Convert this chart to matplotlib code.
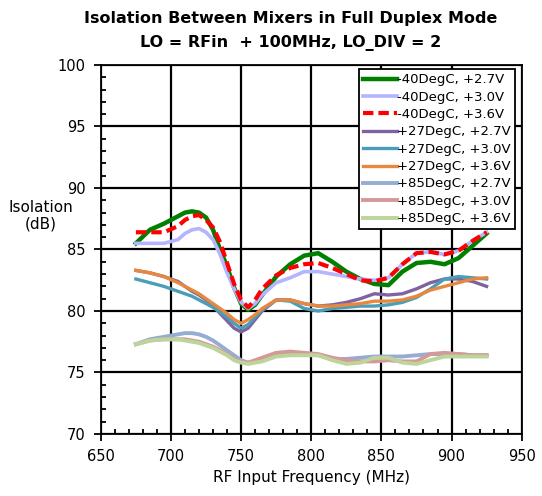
import matplotlib
matplotlib.use('Agg')
import matplotlib.pyplot as plt
from matplotlib.ticker import MultipleLocator

freq = [675, 685, 695, 705, 710, 715, 720, 725, 730, 735, 740, 745, 750, 755, 760, 765,
        775, 785, 795, 805, 815, 825, 835, 845, 855, 865, 875, 885, 895, 905, 915, 925]

m40_27 = [85.5, 86.6, 87.1, 87.7, 88.0, 88.1, 88.0, 87.6, 86.6, 85.0, 83.6, 81.9, 80.6, 80.1, 80.5, 81.3,
          82.8, 83.8, 84.5, 84.7, 84.0, 83.2, 82.6, 82.2, 82.1, 83.2, 83.9, 84.0, 83.8, 84.3, 85.3, 86.3]
m40_30 = [85.5, 85.5, 85.5, 85.8, 86.3, 86.6, 86.7, 86.4, 85.8, 84.6, 83.1, 81.8, 80.7, 80.2, 80.6, 81.3,
          82.3, 82.7, 83.2, 83.2, 83.0, 82.8, 82.6, 82.5, 82.7, 83.8, 84.7, 84.8, 84.6, 84.9, 85.7, 86.4]
m40_36 = [86.4, 86.4, 86.4, 86.9, 87.4, 87.7, 87.8, 87.4, 86.8, 85.6, 83.9, 82.2, 80.9, 80.3, 80.9, 81.8,
          82.9, 83.5, 83.8, 83.9, 83.5, 83.0, 82.5, 82.4, 82.7, 83.8, 84.7, 84.8, 84.6, 84.9, 85.7, 86.4]
p27_27 = [83.3, 83.1, 82.8, 82.4, 82.0, 81.6, 81.3, 80.9, 80.4, 79.8, 79.2, 78.6, 78.3, 78.6, 79.3, 80.0,
          80.9, 80.9, 80.6, 80.4, 80.5, 80.7, 81.0, 81.4, 81.3, 81.4, 81.8, 82.3, 82.6, 82.6, 82.4, 82.0]
p27_30 = [82.6, 82.3, 82.0, 81.6, 81.4, 81.2, 80.9, 80.6, 80.3, 79.9, 79.5, 79.0, 78.6, 78.9, 79.5, 80.1,
          80.9, 80.8, 80.2, 80.0, 80.2, 80.3, 80.4, 80.4, 80.5, 80.7, 81.1, 81.8, 82.6, 82.8, 82.7, 82.6]
p27_36 = [83.3, 83.1, 82.8, 82.3, 82.0, 81.7, 81.4, 81.0, 80.6, 80.2, 79.8, 79.3, 79.0, 79.3, 79.7, 80.2,
          80.9, 80.9, 80.6, 80.4, 80.4, 80.5, 80.6, 80.8, 80.8, 80.9, 81.2, 81.7, 82.0, 82.3, 82.6, 82.7]
p85_27 = [77.3, 77.7, 77.9, 78.1, 78.2, 78.2, 78.1, 77.9, 77.6, 77.2, 76.8, 76.4, 76.0, 75.8, 75.9, 76.0,
          76.4, 76.6, 76.5, 76.4, 76.1, 76.1, 76.2, 76.3, 76.3, 76.3, 76.4, 76.5, 76.5, 76.5, 76.4, 76.4]
p85_30 = [77.3, 77.6, 77.7, 77.7, 77.7, 77.6, 77.5, 77.3, 77.1, 76.8, 76.5, 76.1, 75.9, 75.8, 76.0, 76.2,
          76.6, 76.7, 76.6, 76.5, 76.2, 76.0, 75.9, 75.9, 76.0, 75.9, 75.9, 76.5, 76.6, 76.5, 76.4, 76.4]
p85_36 = [77.3, 77.6, 77.7, 77.7, 77.6, 77.5, 77.4, 77.2, 77.0, 76.7, 76.4, 76.0, 75.8, 75.7, 75.8, 75.9,
          76.3, 76.4, 76.4, 76.4, 76.0, 75.7, 75.8, 76.2, 76.2, 75.8, 75.7, 76.0, 76.3, 76.3, 76.3, 76.3]

labels = ['-40DegC, +2.7V', '-40DegC, +3.0V', '-40DegC, +3.6V',
          '+27DegC, +2.7V', '+27DegC, +3.0V', '+27DegC, +3.6V',
          '+85DegC, +2.7V', '+85DegC, +3.0V', '+85DegC, +3.6V']

plt.rcParams['font.family'] = 'DejaVu Sans'

fig = plt.figure(figsize=(5.42, 4.96), dpi=100)
ax = fig.add_axes([0.186, 0.125, 0.7765, 0.744])

ax.plot(freq, m40_27, color='#008000', lw=3.2, label=labels[0])
ax.plot(freq, m40_30, color='#B4B4FF', lw=2.6, label=labels[1])
ax.plot(freq, m40_36, color='#FF0000', lw=3.0, ls=(0, (2.5, 1.2)), label=labels[2])
ax.plot(freq, p27_27, color='#7F63A1', lw=2.4, label=labels[3])
ax.plot(freq, p27_30, color='#4A9EB8', lw=2.4, label=labels[4])
ax.plot(freq, p27_36, color='#E8883E', lw=2.4, label=labels[5])
ax.plot(freq, p85_27, color='#95ACD4', lw=2.8, label=labels[6])
ax.plot(freq, p85_30, color='#D49A98', lw=2.8, label=labels[7])
ax.plot(freq, p85_36, color='#BDD49A', lw=2.8, label=labels[8])

ax.set_xlim(650, 950)
ax.set_ylim(70, 100)
ax.xaxis.set_major_locator(MultipleLocator(50))
ax.xaxis.set_minor_locator(MultipleLocator(10))
ax.yaxis.set_major_locator(MultipleLocator(5))
ax.yaxis.set_minor_locator(MultipleLocator(1))
ax.grid(which='major', color='black', lw=1.6)
ax.set_axisbelow(True)
ax.tick_params(which='major', direction='out', length=5, width=1.3, labelsize=10.5, pad=6)
ax.tick_params(which='minor', direction='in', length=3.5, width=1.3)
for s in ax.spines.values():
    s.set_linewidth(1.3)
    s.set_color('black')

ax.set_xlabel('RF Input Frequency (MHz)', fontsize=11)
fig.text(0.075, 0.565, 'Isolation\n(dB)', ha='center', va='center', fontsize=11)

fig.text(0.537, 0.963, 'Isolation Between Mixers in Full Duplex Mode',
         ha='center', va='center', fontsize=11.5, fontweight='bold')
fig.text(0.537, 0.913, 'LO = RFin  + 100MHz, LO_DIV = 2',
         ha='center', va='center', fontsize=11.5, fontweight='bold')

leg = ax.legend(loc='upper right', bbox_to_anchor=(0.984, 0.988), borderaxespad=0,
                fontsize=9.5, handlelength=2.6, handletextpad=0.0, labelspacing=0.33,
                borderpad=0.3, fancybox=False, framealpha=1, edgecolor='black')
leg.get_frame().set_linewidth(1.3)

fig.savefig('out.png', dpi=100)
